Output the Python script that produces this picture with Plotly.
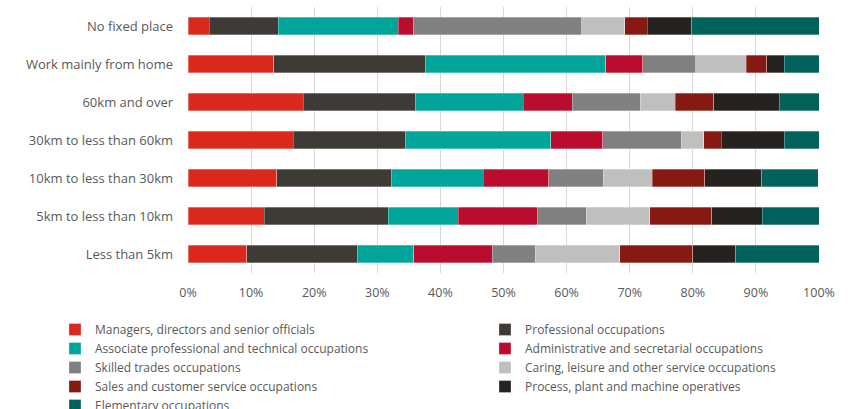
import plotly.graph_objects as go

categories = ["No fixed place", "Work mainly from home", "60km and over",
              "30km to less than 60km", "10km to less than 30km",
              "5km to less than 10km", "Less than 5km"]

managers = [3.4, 13.6, 18.3, 16.7, 14.1, 12.1, 9.3]
professional = [10.9, 24.1, 17.8, 17.8, 18.2, 19.6, 17.6]
associate = [19.0, 28.5, 17.0, 23.0, 14.5, 11.1, 8.9]
administrative = [2.4, 5.9, 7.8, 8.2, 10.4, 12.6, 12.4]
skilled = [26.7, 8.4, 10.8, 12.5, 8.6, 7.7, 6.8]
caring = [6.8, 8.0, 5.5, 3.5, 7.8, 10.1, 13.4]
sales = [3.6, 3.2, 6.1, 2.8, 8.3, 9.8, 11.6]
process = [7.0, 2.8, 10.4, 10.0, 9.0, 8.0, 6.8]
elementary = [20.2, 5.5, 6.3, 5.5, 9.0, 9.0, 13.2]

series_names = ["Managers, directors and senior officials",
                "Professional occupations",
                "Associate professional and technical occupations",
                "Administrative and secretarial occupations",
                "Skilled trades occupations",
                "Caring, leisure and other service occupations",
                "Sales and customer service occupations",
                "Process, plant and machine operatives",
                "Elementary occupations"]
series_values = [managers, professional, associate, administrative, skilled,
                 caring, sales, process, elementary]
colors = ["#DA291C", "#3E3A35", "#00A499", "#BA0C2F", "#808080",
          "#BFBFBF", "#861A12", "#262220", "#00625A"]
# legend column for each series (two-column legend, filled row by row)
legend_columns = ["legend", "legend2", "legend", "legend2", "legend",
                  "legend2", "legend", "legend2", "legend"]

tick_vals = [0, 10, 20, 30, 40, 50, 60, 70, 80, 90, 100]
tick_text = ["0%", "10%", "20%", "30%", "40%", "50%", "60%", "70%", "80%", "90%", "100%"]

FONT = "Open Sans, Noto Sans, sans-serif"
LEG_FONT = dict(family=FONT, size=12, color="#595959")

fig = go.Figure()
for name, vals, col, leg in zip(series_names, series_values, colors, legend_columns):
    fig.add_trace(go.Bar(
        y=categories, x=vals, name=name, orientation="h", legend=leg,
        marker=dict(color=col, line=dict(color="rgba(255,255,255,0.6)", width=0.5)),
    ))

fig.update_layout(
    barmode="stack",
    bargap=0.55,
    width=850, height=409,
    margin=dict(l=188, r=31, t=7, b=136, autoexpand=False),
    paper_bgcolor="white", plot_bgcolor="white",
    font=dict(family=FONT, size=12, color="#595959"),
    showlegend=True,
    legend=dict(
        orientation="v", xref="container", yref="container",
        x=0.0647, y=0.2298, xanchor="left", yanchor="top",
        font=LEG_FONT, traceorder="normal", tracegroupgap=0,
        bgcolor="rgba(0,0,0,0)",
    ),
    legend2=dict(
        orientation="v", xref="container", yref="container",
        x=0.5706, y=0.2298, xanchor="left", yanchor="top",
        font=LEG_FONT, traceorder="normal", tracegroupgap=0,
        bgcolor="rgba(0,0,0,0)",
    ),
    xaxis=dict(
        range=[0, 100], tickvals=tick_vals, ticktext=tick_text,
        showgrid=True, gridcolor="#D9D9D9", gridwidth=1,
        zeroline=False, showline=False, ticks="",
        ticklabelstandoff=10,
        tickfont=dict(size=12.5, color="#595959"),
    ),
    yaxis=dict(
        autorange="reversed", showgrid=False, showline=False, ticks="",
        ticklabelstandoff=14,
        tickfont=dict(size=13, color="#595959"),
    ),
)

fig.write_html("out.html", config={"displayModeBar": False},
               post_script="document.body.style.margin='0px';")
